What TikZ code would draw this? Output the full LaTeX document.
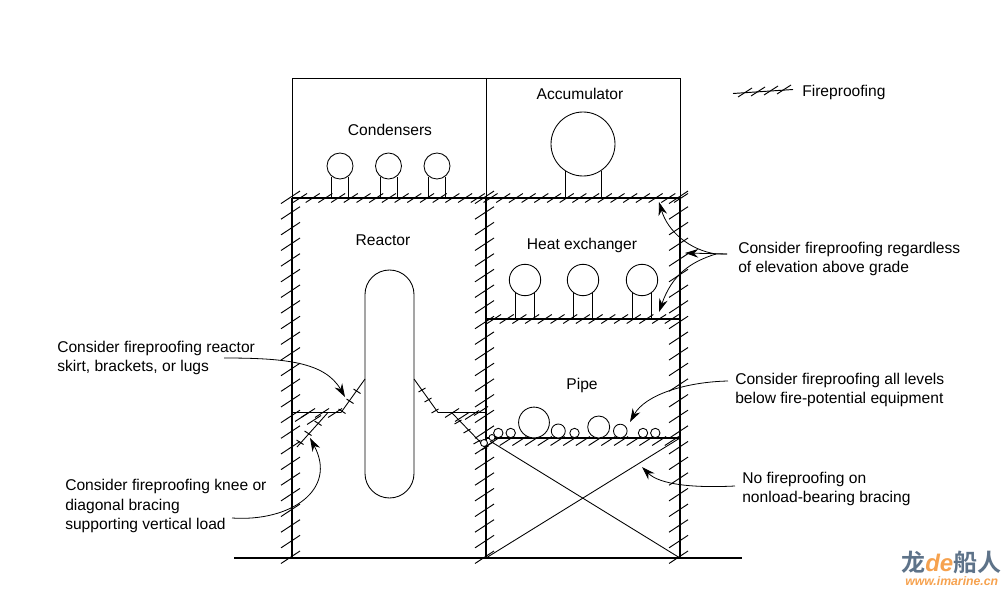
\documentclass[tikz,border=0pt]{standalone}
\usepackage{fontspec}
\setmainfont{Liberation Sans}
\newfontfamily\cjk{Noto Sans CJK SC}[BoldFont={* Bold}]
\usetikzlibrary{arrows.meta}
\definecolor{markblue}{HTML}{5E7389}
\definecolor{markorange}{HTML}{F6A24F}
\tikzset{
  wall/.style={line width=0.9pt},
  thin wall/.style={line width=0.6pt},
  shape line/.style={line width=0.65pt},
  hatch/.style={line width=0.7pt},
  floor/.style={line width=1.1pt},
  lbl/.style={font=\fontsize{11.7}{14.3}\selectfont,inner sep=0pt},
  note/.style={lbl,anchor=west,align=left},
  pointer/.style={line width=0.6pt,-{Stealth[length=10pt,width=6.5pt]}},
}
% tick on a wall, on a floor, and short ticks across a slanted member
\newcommand{\walltick}[2]{\draw[hatch] (#1-11,#2+6.5) -- (#1+8,#2-6);}
\newcommand{\floortick}[2]{\draw[hatch] (#1-7,#2+4.5) -- (#1+7,#2-4.5);}
\newcommand{\downtick}[2]{\draw[hatch] (#1-3.5,#2-2) -- (#1+3.5,#2+2.5);}
\newcommand{\uptick}[2]{\draw[hatch] (#1-3.5,#2+2) -- (#1+3.5,#2-2);}
\begin{document}
\begin{tikzpicture}[x=0.75pt,y=-0.75pt]
\useasboundingbox (0,0) rectangle (1007,592);

% walls
\draw[thin wall] (292,198) -- (292,78) -- (680,78) -- (680,198);
\draw[thin wall] (486,78) -- (486,198);
\draw[wall] (292,198) -- (292,558);
\draw[wall] (486,198) -- (486,558);
\draw[wall] (680,198) -- (680,558);
\foreach \x in {292,486,680} {
  \foreach \k in {0,...,23} {
    \walltick{\x}{557-15.65*\k}
  }
}

% floors
\draw[floor] (292,198) -- (680,198);
\draw[floor] (486,319) -- (680,319);
\draw[floor] (486,438) -- (680,438);
\foreach \k in {0,...,30} {
  \floortick{300+12.7*\k}{198}
}
\foreach \k in {0,...,14} {
  \floortick{494+12.7*\k}{319}
  \floortick{494+12.7*\k}{441}
}
\draw[line width=1.6pt] (234,558) -- (742,558);

% condensers
\foreach \x in {340,388.5,437} {
  \draw[shape line] (\x,166) circle (13);
  \draw[shape line] (\x-8.5,177) -- (\x-8.5,198) (\x+8.5,177) -- (\x+8.5,198);
}
\node[lbl] (condensers) at (390,130) {Condensers};

% accumulator
\draw[shape line] (583,144) circle (32);
\draw[shape line] (565,171) -- (565,198) (601.5,171) -- (601.5,198);
\node[lbl] (accumulator) at (580,94) {Accumulator};

% heat exchanger
\foreach \x in {525,583,642} {
  \draw[shape line] (\x,280) circle (15.7);
  \draw[shape line] (\x-9.7,293) -- (\x-9.7,319) (\x+9.7,293) -- (\x+9.7,319);
}
\node[lbl] (heatexchanger) at (582,245) {Heat exchanger};

% reactor
\node[lbl] (reactor) at (383,240) {Reactor};
\draw[shape line] (365,294.5) arc (180:360:24.5) -- (414,473.5) arc (0:180:24.5) -- cycle;

% skirt and brackets
\draw[shape line] (365,379) -- (341,412.5);
\draw[floor] (341,412.5) -- (292,412.5);
\draw[shape line] (414,379) -- (438,412.5);
\draw[floor] (438,412.5) -- (486,412.5);
\draw[shape line] (328,412.5) -- (297,447);
\draw[shape line] (452,413) -- (487,449);
\foreach \x/\y in {302/417,308/413,314/420,322/413,335/413} {
  \floortick{\x}{\y}
}
\foreach \x/\y in {452/413,462/417,472/415,481/411} {
  \floortick{\x}{\y}
}
\foreach \x/\y in {357/391,350/401,342/411,318/423,308/433,300/442} {
  \downtick{\x}{\y}
}
\foreach \x/\y in {458/422,467/431,477/442,485/448} {
  \uptick{\x}{\y}
}
\foreach \x/\y in {422/390,428/400,435/411} {
  \uptick{\x}{\y}
}

% pipes
\foreach \x/\r/\y in {484/3.5/443,492/3/437.5,498.3/4.7/433,510.7/4.7/433,534/15.4/422.5,558.3/7/431,574.5/4.7/433,598.7/11/427,620.3/6.8/431,643/4.7/433,655.3/4.7/433} {
  \draw[shape line,fill=white] (\x,\y) circle (\r);
}
\node[lbl] (pipe) at (582,385) {Pipe};

% bracing
\draw[shape line] (490,441) -- (680,558);
\draw[shape line] (486,558) -- (680,438);

% legend
\coordinate (legA) at (733,93.5);
\coordinate (legB) at (793,89.5);
\draw[hatch] (legA) -- (legB);
\foreach \x/\y in {745/93,758/92,771/91,784/90} {
  \draw[hatch] (\x-7,\y+4) -- (\x+7,\y-5);
}
\node[note] (legend) at (802,92) {Fireproofing};

% notes
\node[note] (noteA) at (57,358) {Consider fireproofing reactor\\skirt, brackets, or lugs};
\node[note] (noteB) at (65,506) {Consider fireproofing knee or\\diagonal bracing\\supporting vertical load};
\node[note] (noteC) at (738,259) {Consider fireproofing regardless\\of elevation above grade};
\node[note] (noteD) at (735,390) {Consider fireproofing all levels\\below fire-potential equipment};
\node[note] (noteE) at (742,489) {No fireproofing on\\nonload-bearing bracing};

% arrows
\coordinate (tipA) at (345,397);
\coordinate (tipB) at (310,438);
\coordinate (tipC) at (659,202);
\coordinate (tipD) at (685,253);
\coordinate (tipE) at (659,312);
\coordinate (tipF) at (630,422);
\coordinate (tipG) at (642,467);
\coordinate (fork) at (727,254);
\draw[pointer] (224,358) .. controls (285,358) and (325,362) .. (tipA);
\draw[pointer] (232,518) .. controls (290,522) and (338,490) .. (tipB);
\draw[pointer] (fork) -- (716,254) .. controls (690,250) and (668,232) .. (tipC);
\draw[pointer] (fork) -- (tipD);
\draw[pointer] (716,254) .. controls (690,262) and (672,275) .. (tipE);
\draw[pointer] (728,381) .. controls (685,382) and (645,395) .. (tipF);
\draw[pointer] (735,486) .. controls (695,488) and (660,485) .. (tipG);

% site mark
\node[inner sep=0pt,anchor=west] (marktitle) at (901,562) {\cjk\bfseries\fontsize{18}{18}\selectfont
  \textcolor{markblue}{龙}\textcolor{markorange}{\normalfont\bfseries\itshape de}\textcolor{markblue}{船人}};
\node[inner sep=0pt,anchor=west,text=markorange] (markurl) at (905,581) {\fontsize{9.2}{10}\selectfont\bfseries\itshape www.imarine.cn};
\end{tikzpicture}
\end{document}
